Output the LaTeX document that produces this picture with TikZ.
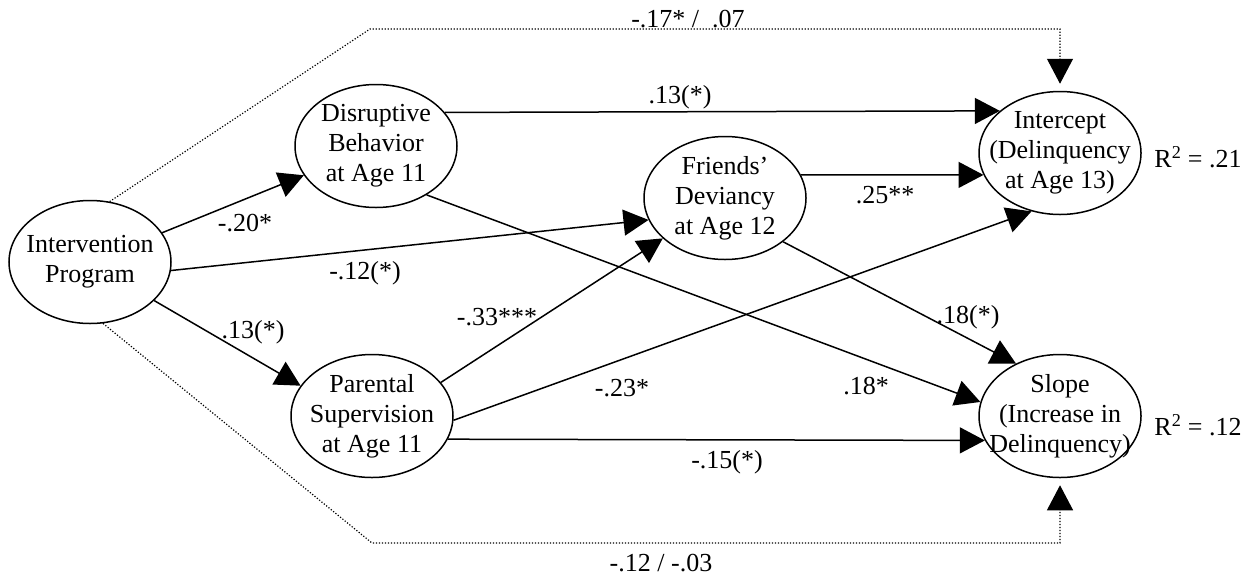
\documentclass[tikz,border=0pt]{standalone}
\usepackage{fontspec}
\setmainfont{Liberation Serif}
\usetikzlibrary{arrows.meta,shapes.geometric}
\begin{document}
\begin{tikzpicture}[x=1pt,y=-1pt,
 ell/.style={draw, ellipse, line width=1.5pt, minimum width=162pt, minimum height=123pt, inner sep=0pt},
 txt/.style={align=center, font=\fontsize{26}{30}\selectfont, inner sep=0pt},
 lab/.style={font=\fontsize{26}{30}\selectfont, inner sep=0pt},
 arr/.style={line width=1.5pt, -{Triangle[length=25pt,width=26pt]}},
 dotline/.style={line width=1.2pt, dash pattern=on 1.2pt off 1.8pt, -{Triangle[length=25pt,width=26pt]}, shorten >=7pt}]
\useasboundingbox (0,0) rectangle (1252,579);

\node[ell] (iv)  at (90,262)  {};
\node[ell] (dis) at (376,146) {};
\node[ell] (par) at (372,416) {};
\node[ell] (fr)  at (725,198) {};
\node[ell] (int) at (1060,153) {};
\node[ell] (slo) at (1060,416) {};

\node[txt] at (iv)  {Intervention\\Program};
\node[txt] at (dis) {Disruptive\\Behavior\\at Age 11};
\node[txt] at (par) {Parental\\Supervision\\at Age 11};
\node[txt] at (fr)  {Friends'\\Deviancy\\at Age 12};
\node[txt] at (int) {Intercept\\(Delinquency\\at Age 13)};
\node[txt] at (slo) {Slope\\(Increase in\\Delinquency)};

\node[lab] (r1) at (1198,157) {R\textsuperscript{2} = .21};
\node[lab] (r2) at (1198,425) {R\textsuperscript{2} = .12};

% solid paths
\draw[arr] (iv) -- (dis);
\draw[arr] (iv.354) -- (fr.196);
\draw[arr] (iv.-31) -- (par.157);
\draw[arr] (dis.26.8) -- (int.145.6);
\draw[arr] (dis.-44) -- (slo.170);
\draw[arr] (fr.17.2) -- (int.196.4);
\draw[arr] (fr.-37) -- (slo.130);
\draw[arr] (par.26.6) -- (fr.213);
\draw[arr] (par.357) -- (int.244);
\draw[arr] (par.-17.4) -- (slo.198);

% dotted paths
\coordinate (t1) at (370,29);
\coordinate (b1) at (372,543);
\draw[dotline] (iv.72) -- (t1) -- (t1 -| int.north) -- (int.north);
\draw[dotline] (iv.-78) -- (b1) -- (b1 -| slo.south) -- (slo.south);

% labels
\node[lab] at (245,223) {-.20*};
\node[lab] at (365,273) {-.12(*)};
\node[lab] at (253,332) {.13(*)};
\node[lab] at (680,97) {.13(*)};
\node[lab] at (885,195) {.25**};
\node[lab] at (497,317) {-.33***};
\node[lab] at (622,388) {-.23*};
\node[lab] at (968,317) {.18(*)};
\node[lab] at (866,386) {.18*};
\node[lab] at (727,462) {-.15(*)};
\node[lab] at (688,19) {-.17* /\ \ .07};
\node[lab] at (661,563) {-.12 / -.03};
\end{tikzpicture}
\end{document}
